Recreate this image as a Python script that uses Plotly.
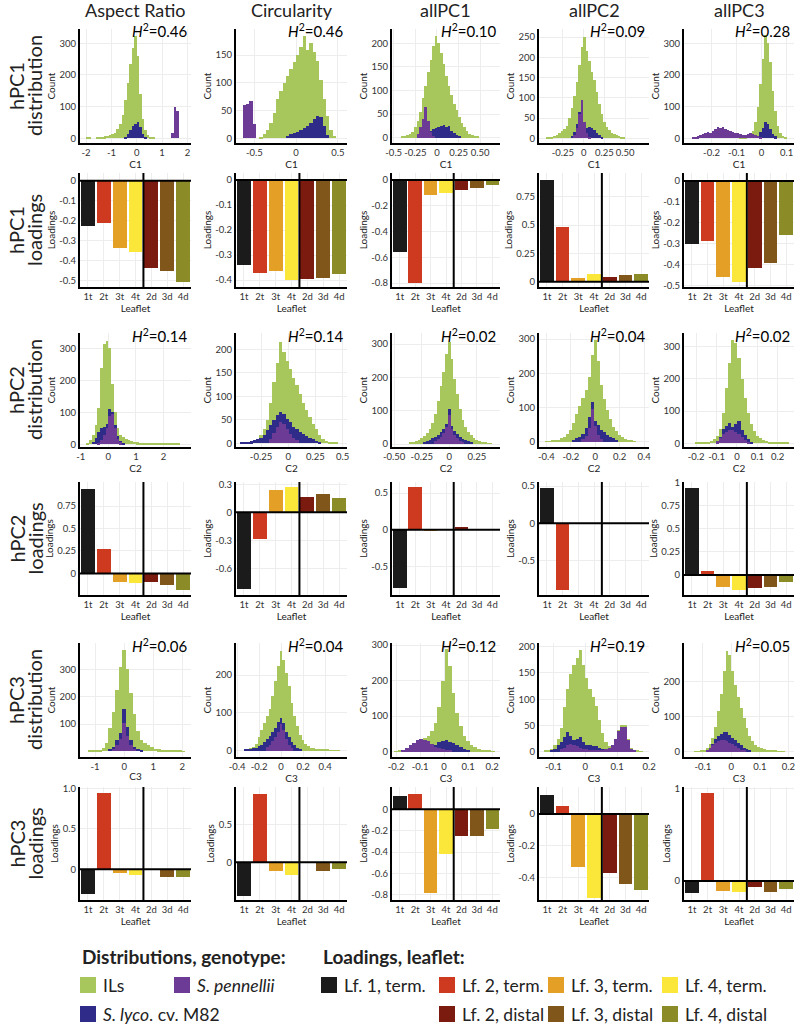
import plotly.graph_objects as go

# ------------------------------------------------------------------ data
TRAITS = ["Aspect Ratio", "Circularity", "allPC1", "allPC2", "allPC3"]
ROW_LABELS = [("hPC1", "distribution"), ("hPC1", "loadings"),
              ("hPC2", "distribution"), ("hPC2", "loadings"),
              ("hPC3", "distribution"), ("hPC3", "loadings")]
LEAFLETS = ["1t", "2t", "3t", "4t", "2d", "3d", "4d"]
H2_PC1 = ["0.46", "0.46", "0.10", "0.09", "0.28"]
H2_PC2 = ["0.14", "0.14", "0.02", "0.04", "0.02"]
H2_PC3 = ["0.06", "0.04", "0.12", "0.19", "0.05"]
DIST_XLABELS = ["C1", "C2", "C3"]

# loadings (1t, 2t, 3t, 4t, 2d, 3d, 4d)
LOAD_PC1_AR = [-0.225, -0.21, -0.335, -0.355, -0.435, -0.45, -0.505]
LOAD_PC1_CI = [-0.34, -0.37, -0.365, -0.40, -0.395, -0.39, -0.375]
LOAD_PC1_A1 = [-0.56, -0.80, -0.117, -0.10, -0.078, -0.062, -0.036]
LOAD_PC1_A2 = [0.897, 0.485, 0.03, 0.065, 0.044, 0.056, 0.064]
LOAD_PC1_A3 = [-0.30, -0.284, -0.456, -0.48, -0.414, -0.392, -0.257]
LOAD_PC2_AR = [0.94, 0.267, -0.093, -0.105, -0.093, -0.126, -0.185]
LOAD_PC2_CI = [-0.82, -0.29, 0.24, 0.27, 0.167, 0.196, 0.157]
LOAD_PC2_A1 = [-0.80, 0.58, -0.02, 0.0, 0.03, 0.003, 0.0]
LOAD_PC2_A2 = [0.47, -0.89, -0.005, 0.0, 0.0, 0.0, 0.0]
LOAD_PC2_A3 = [0.94, 0.04, -0.133, -0.162, -0.137, -0.13, -0.08]
LOAD_PC3_AR = [-0.31, 0.94, -0.05, -0.07, 0.0, -0.10, -0.09]
LOAD_PC3_CI = [-0.44, 0.895, -0.12, -0.17, 0.0, -0.11, -0.088]
LOAD_PC3_A1 = [0.12, 0.14, -0.78, -0.42, -0.25, -0.25, -0.18]
LOAD_PC3_A2 = [0.12, 0.05, -0.33, -0.53, -0.37, -0.44, -0.48]
LOAD_PC3_A3 = [-0.13, 0.96, -0.11, -0.12, -0.065, -0.12, -0.09]

# histogram counts: (first bin centre, counts), bin width per panel
D1_AR_W = 0.1
D1_AR_ILS = (-1.95, [2, 1, 0, 0, 3, 4, 5, 6, 7, 9, 12, 18, 28, 45, 75, 120, 175, 235, 285, 322, 260, 140, 60, 25, 10, 4, 1])
D1_AR_M82 = (-0.45, [5, 15, 25, 38, 45, 50, 35, 15, 5])
D1_AR_PEN = (1.4, [18, 100, 85])

D1_CI_W = 0.04
D1_CI_ILS = (-0.42, [3, 8, 15, 28, 45, 70, 85, 100, 112, 125, 138, 150, 165, 185, 160, 172, 155, 140, 105, 70, 40, 15, 4])
D1_CI_M82 = (-0.10, [5, 8, 10, 12, 15, 18, 22, 28, 35, 40, 38, 22, 6])
D1_CI_PEN = (-0.62, [60, 62, 68, 25])

D1_A1_W = 0.03
D1_A1_ILS = (-0.40, [2, 3, 5, 8, 12, 22, 35, 55, 85, 110, 140, 165, 195, 215, 200, 180, 155, 130, 110, 90, 72, 58, 45, 32, 22, 14, 8, 5, 3, 2])
D1_A1_M82 = (-0.22, [5, 12, 25, 45, 30, 15, 18, 20, 22, 25, 28, 22, 25, 15, 10, 5, 2])
D1_A1_PEN = (-0.22, [8, 22, 40, 66, 35, 12, 4])

D1_A2_W = 0.03
D1_A2_ILS = (-0.44, [1, 2, 3, 5, 8, 12, 18, 24, 30, 50, 75, 105, 140, 180, 225, 250, 215, 190, 165, 145, 115, 85, 60, 40, 28, 20, 14, 10, 7, 5, 3, 2])
D1_A2_M82 = (-0.14, [5, 15, 35, 65, 60, 35, 25, 28, 25, 20, 14, 8, 4])
D1_A2_PEN = (-0.11, [8, 25, 60, 95, 40, 12, 3])

D1_A3_W = 0.01
D1_A3_ILS = (-0.085, [2, 3, 5, 8, 12, 22, 50, 100, 170, 250, 326, 300, 240, 150, 85, 40, 18, 8, 3])
D1_A3_M82 = (-0.015, [8, 20, 32, 52, 45, 28, 14, 6])
D1_A3_PEN = (-0.275, [2, 3, 6, 10, 12, 16, 21, 18, 24, 28, 37, 33, 35, 30, 26, 22, 20, 16, 18, 13, 11, 10, 12, 16, 14, 10, 8, 5])

D2_AR_W = 0.1
D2_AR_ILS = (-0.75, [5, 13, 30, 60, 115, 240, 315, 322, 300, 190, 100, 50, 30, 22, 18, 14, 11, 8, 6, 5, 4, 3, 2, 2, 1, 1, 1, 2, 1, 1, 1, 1, 2, 1])
D2_AR_M82 = (-0.55, [8, 20, 40, 50, 55, 65, 110, 100, 60, 25, 10, 4])
D2_AR_PEN = (-0.35, [5, 15, 30, 50, 90, 95, 50, 18, 6])

D2_CI_W = 0.03
D2_CI_ILS = (-0.40, [1, 2, 3, 5, 10, 18, 30, 50, 85, 130, 170, 215, 195, 175, 158, 140, 125, 105, 85, 70, 57, 42, 30, 18, 10, 5, 3, 2, 1])
D2_CI_M82 = (-0.43, [3, 2, 3, 4, 6, 8, 12, 18, 28, 38, 50, 60, 67, 62, 52, 45, 35, 30, 25, 20, 15, 11, 8, 5, 3])
D2_CI_PEN = (-0.16, [10, 22, 35, 45, 42, 30, 20, 12, 6])

D2_A1_W = 0.025
D2_A1_ILS = (-0.35, [4, 6, 9, 13, 18, 25, 33, 45, 62, 90, 130, 175, 215, 270, 307, 255, 195, 150, 105, 72, 50, 36, 26, 18, 12, 8, 5, 4, 3, 2])
D2_A1_M82 = (-0.225, [5, 8, 12, 17, 22, 27, 35, 45, 60, 105, 55, 40, 30, 22, 16, 12, 8, 5])
D2_A1_PEN = (-0.125, [8, 14, 22, 32, 50, 88, 45, 28, 18, 10, 5])

D2_A2_W = 0.025
D2_A2_ILS = (-0.40, [1, 2, 3, 4, 6, 10, 15, 22, 35, 55, 80, 105, 128, 150, 190, 255, 298, 235, 165, 125, 92, 65, 44, 30, 20, 13, 8, 5, 3, 2])
D2_A2_M82 = (-0.175, [5, 10, 15, 24, 40, 73, 117, 60, 50, 34, 28, 20, 15, 10, 5])
D2_A2_PEN = (-0.1, [8, 18, 40, 95, 45, 20, 8])

D2_A3_W = 0.015
D2_A3_ILS = (-0.2, [1, 1, 2, 3, 4, 7, 12, 22, 45, 95, 170, 250, 320, 312, 265, 200, 140, 95, 60, 38, 24, 16, 10, 7, 5, 3, 2, 2, 1, 1, 1])
D2_A3_M82 = (-0.095, [8, 20, 45, 55, 62, 52, 60, 70, 42, 25, 12, 5])
D2_A3_PEN = (-0.095, [6, 15, 28, 36, 40, 40, 36, 30, 18, 10, 4])

D3_AR_W = 0.12
D3_AR_ILS = (-1.2, [2, 2, 3, 5, 11, 29, 84, 145, 224, 310, 372, 300, 215, 135, 75, 42, 30, 22, 14, 10, 7, 5, 4, 3, 2, 2, 2, 1])
D3_AR_M82 = (-0.48, [8, 17, 41, 66, 155, 90, 41, 17, 8, 4])
D3_AR_PEN = (-0.36, [8, 22, 45, 105, 55, 22, 8])

D3_CI_W = 0.025
D3_CI_ILS = (-0.325, [3, 4, 6, 9, 18, 35, 55, 72, 92, 110, 145, 185, 225, 265, 240, 205, 170, 125, 92, 64, 42, 28, 18, 12, 8, 6, 4, 3, 3, 2, 2, 1, 1, 1, 1])
D3_CI_M82 = (-0.325, [3, 4, 5, 6, 8, 11, 16, 22, 30, 38, 48, 60, 75, 86, 72, 50, 36, 22, 14, 8, 5])
D3_CI_PEN = (-0.125, [10, 16, 25, 35, 50, 70, 55, 30, 15, 6])

D3_A1_W = 0.015
D3_A1_ILS = (-0.2, [1, 2, 4, 8, 14, 20, 27, 34, 38, 44, 58, 80, 125, 200, 290, 240, 165, 110, 72, 45, 30, 20, 13, 8, 5, 3, 2, 1])
D3_A1_M82 = (-0.05, [12, 20, 26, 30, 33, 28, 24, 18, 12, 7, 4])
D3_A1_PEN = (-0.17, [4, 10, 18, 25, 32, 36, 34, 30, 22, 14, 10, 8, 6, 4])

D3_A2_W = 0.01
D3_A2_ILS = (-0.125, [2, 3, 6, 12, 25, 45, 85, 120, 148, 165, 178, 194, 165, 140, 120, 105, 88, 60, 35, 18, 10, 10, 25, 42, 50, 50, 25, 8, 4, 2, 1])
D3_A2_M82 = (-0.105, [3, 6, 12, 19, 29, 38, 30, 22, 25, 28, 18, 13, 13, 11, 10, 7, 5, 3])
D3_A2_PEN = (-0.075, [5, 8, 12, 14, 12, 10, 8, 6, 5, 4, 3, 3, 3, 4, 6, 8, 12, 24, 40, 48, 48, 22, 6, 3])

D3_A3_W = 0.01
D3_A3_ILS = (-0.125, [1, 2, 3, 5, 10, 22, 38, 70, 115, 165, 230, 286, 275, 230, 190, 155, 125, 95, 68, 45, 30, 20, 14, 10, 8, 6, 5, 4, 3, 2, 2, 1])
D3_A3_M82 = (-0.085, [5, 12, 22, 35, 45, 52, 57, 55, 48, 40, 33, 25, 19, 12, 8, 4])
D3_A3_PEN = (-0.085, [4, 10, 18, 26, 30, 33, 33, 30, 26, 22, 16, 10, 6, 3])

DIST_DATA = [
    [(D1_AR_W, D1_AR_ILS, D1_AR_M82, D1_AR_PEN), (D1_CI_W, D1_CI_ILS, D1_CI_M82, D1_CI_PEN),
     (D1_A1_W, D1_A1_ILS, D1_A1_M82, D1_A1_PEN), (D1_A2_W, D1_A2_ILS, D1_A2_M82, D1_A2_PEN),
     (D1_A3_W, D1_A3_ILS, D1_A3_M82, D1_A3_PEN)],
    [(D2_AR_W, D2_AR_ILS, D2_AR_M82, D2_AR_PEN), (D2_CI_W, D2_CI_ILS, D2_CI_M82, D2_CI_PEN),
     (D2_A1_W, D2_A1_ILS, D2_A1_M82, D2_A1_PEN), (D2_A2_W, D2_A2_ILS, D2_A2_M82, D2_A2_PEN),
     (D2_A3_W, D2_A3_ILS, D2_A3_M82, D2_A3_PEN)],
    [(D3_AR_W, D3_AR_ILS, D3_AR_M82, D3_AR_PEN), (D3_CI_W, D3_CI_ILS, D3_CI_M82, D3_CI_PEN),
     (D3_A1_W, D3_A1_ILS, D3_A1_M82, D3_A1_PEN), (D3_A2_W, D3_A2_ILS, D3_A2_M82, D3_A2_PEN),
     (D3_A3_W, D3_A3_ILS, D3_A3_M82, D3_A3_PEN)],
]
LOAD_DATA = [
    [LOAD_PC1_AR, LOAD_PC1_CI, LOAD_PC1_A1, LOAD_PC1_A2, LOAD_PC1_A3],
    [LOAD_PC2_AR, LOAD_PC2_CI, LOAD_PC2_A1, LOAD_PC2_A2, LOAD_PC2_A3],
    [LOAD_PC3_AR, LOAD_PC3_CI, LOAD_PC3_A1, LOAD_PC3_A2, LOAD_PC3_A3],
]
H2_DATA = [H2_PC1, H2_PC2, H2_PC3]

GENOTYPE_LABELS = ["ILs", "<i>S. pennellii</i>", "<i>S. lyco</i>. cv. M82"]
LEAF_LABELS = ["Lf. 1, term.", "Lf. 2, term.", "Lf. 3, term.", "Lf. 4, term.",
               "Lf. 2, distal", "Lf. 3, distal", "Lf. 4, distal"]

# ------------------------------------------------------------------ style / layout
W, H = 797, 1031
FONT = "Lato"
C_ILS, C_PEN, C_M82 = "#a7c75c", "#6b3b96", "#2e2b89"
LEAF_COLORS = ["#1b1b1b", "#cd3a1f", "#e4a026", "#fae73a", "#7b1a0e", "#80561b", "#8b8c27"]
GRID = "#ededed"
TICKC = "#333333"

COL_PX = [(80, 191), (236, 347), (392, 500), (539, 649), (684, 794)]
ROW_PX = [(29, 143), (173, 287), (333, 447), (482, 595), (643, 757), (787, 900)]

# distribution axes: (xrange, xtickvals, xticktext or None, yrange, ytickvals)
DIST_AX = [
    [([-2.24, 2.14], [-2, -1, 0, 1, 2], None, [-15, 345], [0, 100, 200, 300]),
     ([-0.72, 0.61], [-0.5, 0, 0.5], None, [-8.5, 197], [0, 50, 100, 150]),
     ([-0.52, 0.73], [-0.5, -0.25, 0, 0.25, 0.5], ["-0.5", "-0.25", "0", "0.25", "0.50"], [-11, 230], [0, 50, 100, 150, 200]),
     ([-0.54, 0.79], [-0.25, 0, 0.25, 0.5], ["-0.25", "0", "0.25", "0.50"], [-11.6, 270], [0, 50, 100, 150, 200, 250]),
     ([-0.31, 0.13], [-0.2, -0.1, 0, 0.1], None, [-15, 345], [0, 100, 200, 300])],
    [([-1.03, 3.0], [-1, 0, 1, 2], None, [-8.4, 348], [0, 100, 200, 300]),
     ([-0.48, 0.54], [-0.25, 0, 0.25, 0.5], None, [-8, 235], [0, 50, 100, 150, 200]),
     ([-0.52, 0.46], [-0.5, -0.25, 0, 0.25], ["-0.50", "-0.25", "0", "0.25"], [-9, 333], [0, 100, 200, 300]),
     ([-0.46, 0.44], [-0.4, -0.2, 0, 0.2, 0.4], None, [-15.5, 318], [0, 100, 200, 300]),
     ([-0.26, 0.28], [-0.2, -0.1, 0, 0.1, 0.2], None, [-11.5, 342], [0, 100, 200, 300])],
    [([-1.52, 2.3], [-1, 0, 1, 2], None, [-21, 397], [100, 200, 300]),
     ([-0.41, 0.6], [-0.4, -0.2, 0, 0.2, 0.4], None, [-17, 285], [0, 100, 200]),
     ([-0.217, 0.233], [-0.2, -0.1, 0, 0.1, 0.2], None, [-15, 306], [0, 100, 200, 300]),
     ([-0.145, 0.2], [-0.1, 0, 0.1, 0.2], None, [-10, 207], [0, 50, 100, 150, 200]),
     ([-0.166, 0.22], [-0.1, 0, 0.1, 0.2], None, [-15, 310], [0, 100, 200])],
]
# loading axes: (yrange, ytickvals, yticktext or None)
LOAD_AX = [
    [([-0.53, 0.038], [0, -0.1, -0.2, -0.3, -0.4, -0.5], None),
     ([-0.428, 0.028], [0, -0.1, -0.2, -0.3, -0.4], None),
     ([-0.83, 0.054], [0, -0.2, -0.4, -0.6, -0.8], None),
     ([-0.047, 0.96], [0, 0.25, 0.5, 0.75], None),
     ([-0.505, 0.038], [0, -0.1, -0.2, -0.3, -0.4, -0.5], None)],
    [([-0.24, 1.017], [0, 0.25, 0.5, 0.75], None),
     ([-0.886, 0.325], [0.3, 0, -0.3, -0.6], None),
     ([-0.89, 0.65], [0.5, 0, -0.5], None),
     ([-0.964, 0.555], [0.5, 0, -0.5], None),
     ([-0.217, 1.007], [0, 0.25, 0.5, 0.75, 1], None)],
    [([-0.379, 1.016], [0, 0.5, 1.0], ["0", "0.5", "1.0"]),
     ([-0.495, 0.99], [0, 0.5], None),
     ([-0.848, 0.208], [0, -0.2, -0.4, -0.6, -0.8], None),
     ([-0.54, 0.17], [0, -0.2, -0.4], None),
     ([-0.207, 1.02], [0, 1], None)],
]


def fmt(v):
    return "%g" % v


def aid(n):
    return "" if n == 1 else str(n)


def xdom(c):
    return [COL_PX[c][0] / W, COL_PX[c][1] / W]


def ydom(r):
    return [1 - ROW_PX[r][1] / H, 1 - ROW_PX[r][0] / H]


def py(y):
    return 1 - y / H


fig = go.Figure()
layout = {}
annotations = []
shapes = []

tickfont = dict(family=FONT, size=9.5, color=TICKC)
titlefont = dict(family=FONT, size=10, color="#222222")


def base_axis():
    return dict(showline=True, linecolor="black", linewidth=2, ticks="",
                showgrid=True, gridcolor=GRID, gridwidth=1, zeroline=False,
                tickfont=tickfont, automargin=False, layer="above traces",
                tickangle=0)


for r in range(6):
    for c in range(5):
        n = r * 5 + c + 1
        a = aid(n)
        xa = base_axis()
        ya = base_axis()
        xa.update(domain=xdom(c), anchor="y" + a)
        ya.update(domain=ydom(r), anchor="x" + a)
        k = r // 2
        if r % 2 == 0:
            w, ils, m82, pen = DIST_DATA[k][c]
            for spec, col in ((ils, C_ILS), (m82, C_M82), (pen, C_PEN)):
                x0, counts = spec
                xs = [x0 + i * w for i in range(len(counts))]
                fig.add_trace(go.Bar(x=xs, y=counts, width=w,
                                     marker=dict(color=col, line=dict(width=0)),
                                     xaxis="x" + a, yaxis="y" + a,
                                     showlegend=False, hoverinfo="skip"))
            xr, xt, xtt, yr, yt = DIST_AX[k][c]
            xa.update(range=xr, tickvals=xt, ticktext=xtt if xtt else [fmt(v) for v in xt],
                      title=dict(text=DIST_XLABELS[k], font=titlefont, standoff=2))
            ya.update(range=yr, tickvals=yt, ticktext=[fmt(v) for v in yt],
                      title=dict(text="Count", font=titlefont, standoff=2))
            annotations.append(dict(
                text="<i>H</i><sup>2</sup>=" + H2_DATA[k][c],
                x=(COL_PX[c][1] - 2) / W, y=py(ROW_PX[r][0] + 2),
                xref="paper", yref="paper", xanchor="right", yanchor="middle",
                showarrow=False, font=dict(family=FONT, size=15, color="black")))
        else:
            vals = LOAD_DATA[k][c]
            fig.add_trace(go.Bar(x=LEAFLETS, y=vals, width=0.88,
                                 marker=dict(color=LEAF_COLORS, line=dict(width=0)),
                                 xaxis="x" + a, yaxis="y" + a,
                                 showlegend=False, hoverinfo="skip"))
            yr, yt, ytt = LOAD_AX[k][c]
            xa.update(type="category", categoryorder="array", categoryarray=LEAFLETS,
                      range=[-0.5, 6.5],
                      title=dict(text="Leaflet", font=titlefont, standoff=2))
            ya.update(range=yr, tickvals=yt, ticktext=ytt if ytt else [fmt(v) for v in yt],
                      title=dict(text="Loadings", font=titlefont, standoff=2))
            shapes.append(dict(type="line", xref="x" + a, yref="y" + a + " domain",
                               x0=3.5, x1=3.5, y0=0, y1=1,
                               line=dict(color="black", width=2)))
            shapes.append(dict(type="line", xref="x" + a + " domain", yref="y" + a,
                               x0=0, x1=1, y0=0, y1=0,
                               line=dict(color="black", width=2)))
        layout["xaxis" + a] = xa
        layout["yaxis" + a] = ya

# column titles
for c, t in enumerate(TRAITS):
    annotations.append(dict(text=t, x=(COL_PX[c][0] + COL_PX[c][1]) / 2 / W, y=py(10),
                            xref="paper", yref="paper", xanchor="center", yanchor="middle",
                            showarrow=False, font=dict(family=FONT, size=18, color="#222222")))
# row labels
for r, (l1, l2) in enumerate(ROW_LABELS):
    yc = py((ROW_PX[r][0] + ROW_PX[r][1]) / 2)
    for txt, xc in ((l1, 16), (l2, 34)):
        annotations.append(dict(text=txt, x=xc / W, y=yc, xref="paper", yref="paper",
                                xanchor="center", yanchor="middle", textangle=-90,
                                showarrow=False, font=dict(family=FONT, size=20, color="#222222")))

# legend
legfont = dict(family=FONT, size=17.5, color="#222222")
annotations.append(dict(text="<b>Distributions, genotype:</b>", x=80 / W, y=py(956),
                        xref="paper", yref="paper", xanchor="left", yanchor="middle",
                        showarrow=False, font=dict(family=FONT, size=19, color="#222222")))
annotations.append(dict(text="<b>Loadings, leaflet:</b>", x=321 / W, y=py(956),
                        xref="paper", yref="paper", xanchor="left", yanchor="middle",
                        showarrow=False, font=dict(family=FONT, size=19, color="#222222")))
legend_items = [
    (80, 985, C_ILS, GENOTYPE_LABELS[0]),
    (174, 985, C_PEN, GENOTYPE_LABELS[1]),
    (80, 1014, C_M82, GENOTYPE_LABELS[2]),
    (321, 985, LEAF_COLORS[0], LEAF_LABELS[0]),
    (439, 985, LEAF_COLORS[1], LEAF_LABELS[1]),
    (548, 985, LEAF_COLORS[2], LEAF_LABELS[2]),
    (662, 985, LEAF_COLORS[3], LEAF_LABELS[3]),
    (439, 1014, LEAF_COLORS[4], LEAF_LABELS[4]),
    (548, 1014, LEAF_COLORS[5], LEAF_LABELS[5]),
    (662, 1014, LEAF_COLORS[6], LEAF_LABELS[6]),
]
for x0, yc, col, lab in legend_items:
    shapes.append(dict(type="rect", xref="paper", yref="paper",
                       x0=x0 / W, x1=(x0 + 16) / W, y0=py(yc + 8), y1=py(yc - 8),
                       fillcolor=col, line=dict(width=0)))
    annotations.append(dict(text=lab, x=(x0 + 21) / W, y=py(yc), xref="paper", yref="paper",
                            xanchor="left", yanchor="middle", showarrow=False, font=legfont))

layout.update(
    width=W, height=H, margin=dict(l=0, r=0, t=0, b=0),
    paper_bgcolor="white", plot_bgcolor="white",
    barmode="overlay", bargap=0, showlegend=False,
    font=dict(family=FONT, color="#222222"),
    annotations=annotations, shapes=shapes,
)
fig.update_layout(**layout)
fig.write_html("out.html", config={"displayModeBar": False},
               post_script="document.body.style.margin='0';document.body.style.padding='0';")
